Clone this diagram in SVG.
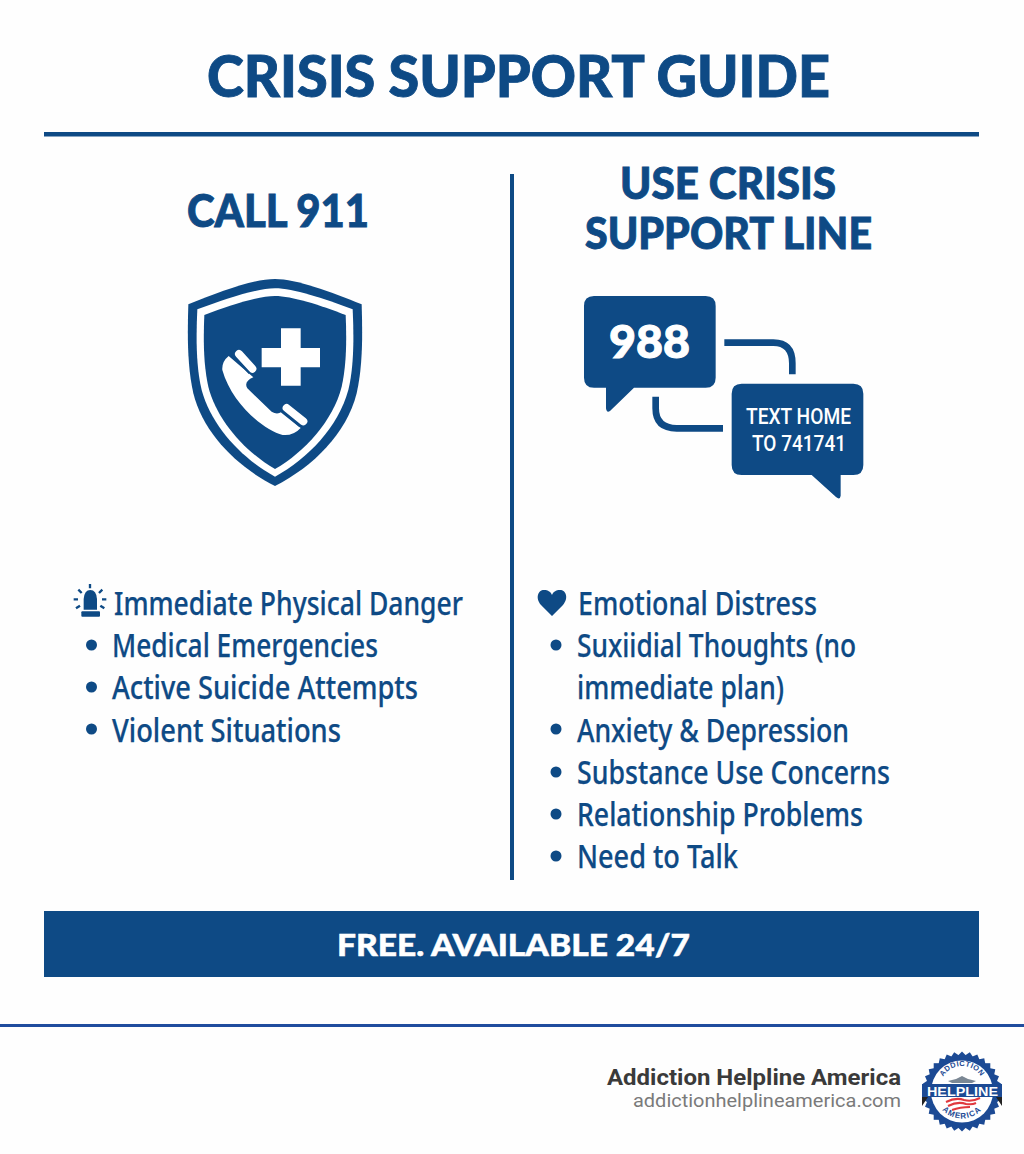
<svg xmlns="http://www.w3.org/2000/svg" width="1024" height="1154" viewBox="0 0 1024 1154">
<style>
.h{font-family:"Lato","Liberation Sans",sans-serif;font-weight:900;fill:#0e4a85;stroke:#0e4a85;stroke-width:.9px}
.b{font-family:"Noto Sans","Liberation Sans",sans-serif;font-size:32px;font-weight:500;fill:#0e4a85;stroke:#0e4a85;stroke-width:.25px}
.w{fill:#fff}
.n{fill:#0e4a85}
.t{font-family:"Roboto","Liberation Sans",sans-serif;font-weight:500;font-size:22.5px;fill:#fff}
.l{fill:#1c4a94}
</style>
<rect width="1024" height="1154" fill="#fefefe"/>
<g id="header">
<text class="h" x="207" y="97" font-size="58" textLength="623" lengthAdjust="spacingAndGlyphs">CRISIS SUPPORT GUIDE</text>
<rect class="n" x="44" y="132" width="935" height="4.5"/>
</g>
<g id="divider"><rect class="n" x="510" y="174" width="4" height="706"/></g>
<g id="call-911">
<text class="h" x="187" y="227" font-size="46" textLength="182" lengthAdjust="spacingAndGlyphs">CALL 911</text>
<g transform="translate(170 270) scale(.33333)">
<path class="n" d="M55 103C150 65 250 27 315 27C380 27 480 65 575 103C578 200 578 290 560 370C530 490 430 590 315 648C200 590 100 490 70 370C52 290 52 200 55 103Z"/>
<path class="w" d="M82 118C170 85 260 55 315 55C370 55 460 85 548 118C552 200 552 290 535 360C505 470 415 565 315 620C215 565 125 470 95 360C78 290 78 200 82 118Z"/>
<path class="n" d="M103 135C180 105 265 78 315 78C365 78 450 105 527 135C530 205 530 285 515 350C490 450 405 545 315 597C225 545 140 450 115 350C100 285 100 205 103 135Z"/>
<path class="w" d="M333 175H392V234H450V292H392V347H333V292H275V234H333Z"/>
<path class="w" d="M176 258L250 322Q220 335 232 355L305 425Q322 436 335 425L392 474Q370 498 338 495C280 480 185 400 157 300Q155 275 176 258Z"/>
<path fill="none" stroke="#fff" stroke-width="24" stroke-linecap="round" d="M207 252L247 296M350 414L400 454"/>
<path fill="none" stroke="#0e4a85" stroke-width="5" d="M186 254L238 310M330 422L390 470"/>
</g>
</g>
<g id="crisis-line">
<text class="h" x="620" y="199" font-size="44" textLength="216" lengthAdjust="spacingAndGlyphs">USE CRISIS</text>
<text class="h" x="585" y="249" font-size="44" textLength="287" lengthAdjust="spacingAndGlyphs">SUPPORT LINE</text>
</g>
<g id="bubble-988" transform="translate(570 285) scale(.33333)">
<path class="n" d="M72 33H407Q437 33 437 63V278Q437 308 407 308H192L120 378Q110 385 108 370V308H72Q42 308 42 278V63Q42 33 72 33Z"/>
</g>
<text id="label-988" x="609" y="358" font-size="46" font-family="Lato,Liberation Sans,sans-serif" font-weight="900" fill="#fff" stroke="#fff" stroke-width="1" textLength="81" lengthAdjust="spacingAndGlyphs">988</text>
<g id="bubble-text" transform="translate(570 285) scale(.33333)">
<path class="n" d="M515 296H850Q880 296 880 326V540Q880 570 850 570H812V632Q810 646 798 636L725 570H515Q485 570 485 540V326Q485 296 515 296Z"/>
</g>
<g id="bubble-text-label">
<text class="t" x="746" y="424" textLength="105" lengthAdjust="spacingAndGlyphs">TEXT HOME</text>
<text class="t" x="752" y="451" textLength="94" lengthAdjust="spacingAndGlyphs">TO 741741</text>
</g>
<g id="connectors" fill="none" stroke="#0e4a85" transform="translate(570 285) scale(.33333)">
<path stroke-width="20" d="M463 173H610Q667 173 667 235V268"/>
<path stroke-width="20" d="M257 335V370Q257 430 320 430H459"/>
</g>
<g id="list-left">
<g id="siren" transform="translate(60 575) scale(.33333)">
<path class="n" d="M71 104V72Q73 45 91 45Q109 45 111 72V104Z"/>
<rect class="n" x="64" y="109" width="56" height="16" rx="3"/>
<path fill="none" stroke="#0e4a85" stroke-width="7" d="M90 27V40M55 44L65 54M127 44L117 54M41 73H54M126 73H139M48 100L60 92M133 100L121 92"/>
</g>
<text class="b" x="114" y="615" textLength="349" lengthAdjust="spacingAndGlyphs">Immediate Physical Danger</text>
<circle class="n" cx="91.500" cy="645" r="5.500"/>
<text class="b" x="112" y="657" textLength="266" lengthAdjust="spacingAndGlyphs">Medical Emergencies</text>
<circle class="n" cx="91.500" cy="687" r="5.500"/>
<text class="b" x="112" y="699" textLength="306" lengthAdjust="spacingAndGlyphs">Active Suicide Attempts</text>
<circle class="n" cx="91.500" cy="729" r="5.500"/>
<text class="b" x="112" y="742" textLength="229" lengthAdjust="spacingAndGlyphs">Violent Situations</text>
</g>
<g id="list-right">
<path id="heart" class="n" d="M552 616L541 605C535 598 538 590 544 590C548 590 551 592 552 595C553 592 556 590 560 590C566 590 569 598 563 605Z"/>
<text class="b" x="578" y="615" textLength="239" lengthAdjust="spacingAndGlyphs">Emotional Distress</text>
<circle class="n" cx="556" cy="645" r="5.500"/>
<text class="b" x="577" y="657" textLength="279" lengthAdjust="spacingAndGlyphs">Suxiidial Thoughts (no</text>
<text class="b" x="577" y="699" textLength="207" lengthAdjust="spacingAndGlyphs">immediate plan)</text>
<circle class="n" cx="556" cy="729" r="5.500"/>
<text class="b" x="577" y="742" textLength="272" lengthAdjust="spacingAndGlyphs">Anxiety &amp; Depression</text>
<circle class="n" cx="556" cy="772" r="5.500"/>
<text class="b" x="577" y="784" textLength="313" lengthAdjust="spacingAndGlyphs">Substance Use Concerns</text>
<circle class="n" cx="556" cy="814" r="5.500"/>
<text class="b" x="577" y="826" textLength="286" lengthAdjust="spacingAndGlyphs">Relationship Problems</text>
<circle class="n" cx="556" cy="856" r="5.500"/>
<text class="b" x="577" y="868" textLength="161" lengthAdjust="spacingAndGlyphs">Need to Talk</text>
</g>
<g id="banner">
<rect class="n" x="44" y="911" width="935" height="66"/>
<text x="337" y="956" font-size="31" font-family="Lato,Liberation Sans,sans-serif" font-weight="900" fill="#fff" stroke="#fff" stroke-width=".5" textLength="353" lengthAdjust="spacingAndGlyphs">FREE. AVAILABLE 24/7</text>
</g>
<g id="footer">
<rect x="0" y="1024" width="1024" height="3" fill="#1f4c9e"/>
<text x="607" y="1085" font-family="Roboto,Liberation Sans,sans-serif" font-weight="700" font-size="22" fill="#3a3a3a" textLength="294" lengthAdjust="spacingAndGlyphs">Addiction Helpline America</text>
<text x="633" y="1107" font-family="Roboto,Liberation Sans,sans-serif" font-size="19" fill="#7a7a7a" textLength="268" lengthAdjust="spacingAndGlyphs">addictionhelplineamerica.com</text>
</g>
<g id="logo">
<defs>
<path id="arcTop" d="M940 1088A22 22 0 0 1 984 1088"/>
<path id="arcBot" d="M935 1091.500A27 27 0 0 0 989 1091.500"/>
<rect id="sq" class="l" x="-28.300" y="-28.300" width="56.600" height="56.600"/>
</defs>
<g transform="translate(962 1091.500)">
<use href="#sq"/><use href="#sq" transform="rotate(11.25)"/><use href="#sq" transform="rotate(22.5)"/><use href="#sq" transform="rotate(33.75)"/><use href="#sq" transform="rotate(45)"/><use href="#sq" transform="rotate(56.25)"/><use href="#sq" transform="rotate(67.5)"/><use href="#sq" transform="rotate(78.75)"/>
</g>
<circle cx="962" cy="1091.500" r="31" fill="#fff"/>
<path d="M948 1081L956 1079L962 1076L968 1079L976 1081L972 1083H952Z" fill="#7b8794"/>
<path d="M946 1102Q956 1097 964 1100Q972 1102 980 1098M948 1106Q958 1101 966 1104Q972 1105 976 1103M952 1110Q960 1107 970 1107" fill="none" stroke="#e0393e" stroke-width="2"/>
<path d="M922 1097H1002L1002 1106L996 1097H928L922 1106Z" fill="#222"/>
<rect class="l" x="922" y="1084" width="80" height="13"/>
<text x="927" y="1095.500" font-family="Liberation Sans,sans-serif" font-weight="700" font-size="13" fill="#fff" textLength="71" lengthAdjust="spacingAndGlyphs">HELPLINE</text>
<text font-family="Liberation Sans,sans-serif" font-weight="700" font-size="7.500" fill="#1c4a94" letter-spacing=".4"><textPath href="#arcTop" startOffset="50%" text-anchor="middle">ADDICTION</textPath></text>
<text font-family="Liberation Sans,sans-serif" font-weight="700" font-size="8" fill="#1c4a94" letter-spacing="1"><textPath href="#arcBot" startOffset="50%" text-anchor="middle">AMERICA</textPath></text>
</g>
</svg>
